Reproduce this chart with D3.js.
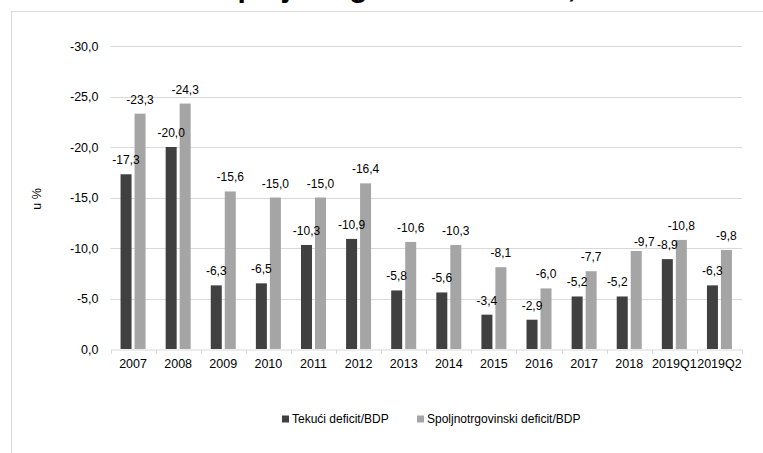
<!DOCTYPE html>
<html>
<head>
<meta charset="utf-8">
<script src="https://cdn.jsdelivr.net/npm/d3@7"></script>
<style>
  html, body { margin: 0; padding: 0; background: #fff; }
  svg { display: block; font-family: "Liberation Sans", Arial, sans-serif; }
</style>
</head>
<body>
<svg id="chart" width="763" height="453"></svg>
<script>
// Current account and trade deficit as share of GDP, in %
const categories = ["2007", "2008", "2009", "2010", "2011", "2012", "2013", "2014", "2015", "2016", "2017", "2018", "2019Q1", "2019Q2"];
const tekuciDeficit = [-17.3, -20.0, -6.3, -6.5, -10.3, -10.9, -5.8, -5.6, -3.4, -2.9, -5.2, -5.2, -8.9, -6.3];
const spoljnotrgovinskiDeficit = [-23.3, -24.3, -15.6, -15.0, -15.0, -16.4, -10.6, -10.3, -8.1, -6.0, -7.7, -9.7, -10.8, -9.8];
const seriesNames = ["Tekući deficit/BDP", "Spoljnotrgovinski deficit/BDP"];
const yTicks = [0, -5, -10, -15, -20, -25, -30];
const titleText = "Tekući i spoljnotrgovinski deficit, u % BDP";

const colors = ["#404040", "#a5a5a5"];
const grid = "#d9d9d9";

const svg = d3.select("#chart");

// Outer frame
svg.append("rect")
  .attr("x", 11.5).attr("y", 11.5)
  .attr("width", 800).attr("height", 500)
  .attr("fill", "none").attr("stroke", grid);

// Title (sits at the top edge)
svg.append("text")
  .attr("x", 103).attr("y", -3.5)
  .attr("font-size", 30).attr("font-weight", "bold")
  .attr("fill", "#000")
  .text(titleText);

const x = d3.scaleBand().domain(categories).range([110.5, 742]).padding(0);
const xInner = d3.scaleBand().domain([0, 1]).range([0, x.bandwidth()])
  .paddingInner(0.214).paddingOuter(0.718);
const y = d3.scaleLinear().domain([0, -30]).range([349, 46]);

const fmt = v => d3.format(".1f")(v).replace("−", "-").replace(".", ",");

// Gridlines
svg.append("g").selectAll("line")
  .data(yTicks.filter(t => t !== 0))
  .join("line")
  .attr("x1", 110.5).attr("x2", 742)
  .attr("y1", d => Math.round(y(d)) + 0.5).attr("y2", d => Math.round(y(d)) + 0.5)
  .attr("stroke", grid).attr("stroke-width", 1);

// Y axis labels
const yAxis = d3.axisLeft(y).tickValues(yTicks).tickFormat(fmt).tickSize(0).tickPadding(12);
const gy = svg.append("g").attr("transform", "translate(110.5,0)").call(yAxis);
gy.select(".domain").remove();
gy.selectAll("text").attr("font-size", 12.5).attr("fill", "#000")
  .attr("font-family", "Liberation Sans, Arial, sans-serif");

// Bars
const series = [tekuciDeficit, spoljnotrgovinskiDeficit];
series.forEach((vals, si) => {
  svg.append("g").selectAll("rect")
    .data(vals)
    .join("rect")
    .attr("x", (d, i) => x(categories[i]) + xInner(si))
    .attr("width", xInner.bandwidth())
    .attr("y", d => y(d))
    .attr("height", d => y(0) - y(d))
    .attr("fill", colors[si]);
});

// Small label nudges where labels would collide
const labelNudge = { "1-11": [8, 5], "0-11": [-5, 0] };

series.forEach((vals, si) => {
  svg.append("g").selectAll("text")
    .data(vals)
    .join("text")
    .attr("x", (d, i) => x(categories[i]) + xInner(si) + xInner.bandwidth() / 2 + ((labelNudge[si + "-" + i] || [0, 0])[0]))
    .attr("y", (d, i) => y(d) - 10 + ((labelNudge[si + "-" + i] || [0, 0])[1]))
    .attr("text-anchor", "middle")
    .attr("font-size", 12)
    .attr("fill", "#000")
    .text(d => fmt(d));
});

// X axis
const xAxis = d3.axisBottom(x).tickSize(0).tickPadding(10);
const gx = svg.append("g").attr("transform", "translate(0,349.5)").call(xAxis);
gx.select(".domain").attr("stroke", grid);
gx.selectAll("text").attr("font-size", 12.5).attr("fill", "#000")
  .attr("font-family", "Liberation Sans, Arial, sans-serif");
// Boundary tick marks between categories
const bounds = categories.map(c => x(c)).concat([x.range()[1]]);
svg.append("g").selectAll("line")
  .data(bounds)
  .join("line")
  .attr("x1", d => Math.round(d) + 0.5).attr("x2", d => Math.round(d) + 0.5)
  .attr("y1", 349.5).attr("y2", 354)
  .attr("stroke", grid);

// Y axis title
svg.append("text")
  .attr("transform", "translate(41,199) rotate(-90)")
  .attr("text-anchor", "middle")
  .attr("font-size", 12.5)
  .attr("fill", "#000")
  .text("u %");

// Legend
const legend = svg.append("g");
const legendX = [282, 417];
seriesNames.forEach((name, i) => {
  legend.append("rect")
    .attr("x", legendX[i]).attr("y", 415.5)
    .attr("width", 7).attr("height", 7)
    .attr("fill", colors[i]);
  legend.append("text")
    .attr("x", legendX[i] + 10).attr("y", 423)
    .attr("font-size", 12)
    .attr("fill", "#000")
    .text(name);
});
</script>
</body>
</html>
